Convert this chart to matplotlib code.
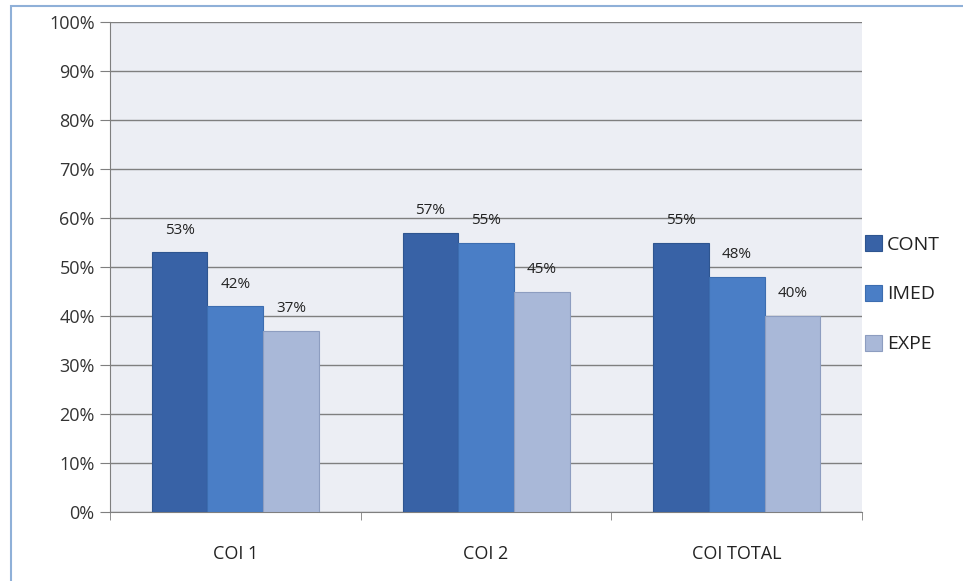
import matplotlib
matplotlib.use("Agg")
import matplotlib.pyplot as plt
import numpy as np
from matplotlib.patches import Rectangle

categories = ["COI 1", "COI 2", "COI TOTAL"]
series = ["CONT", "IMED", "EXPE"]
cont = [53, 57, 55]
imed = [42, 55, 48]
expe = [37, 45, 40]
yticks = [0, 10, 20, 30, 40, 50, 60, 70, 80, 90, 100]

plt.rcParams['font.family'] = ['Open Sans', 'DejaVu Sans']

fig = plt.figure(figsize=(9.63, 5.81), dpi=100)
fig.patch.set_facecolor("white")
# outer frame
fig.patches.append(Rectangle((0.011, -0.01), 1.0, 1.0, transform=fig.transFigure,
                             fill=False, edgecolor="#8fb0d8", linewidth=1.5))

ax = fig.add_axes([0.1142, 0.1188, 0.781, 0.843])
ax.set_facecolor("#eceef4")

x = np.arange(len(categories))
w = 0.222
colors = ["#3862a6", "#4a7ec6", "#a9b8d8"]
edges = ["#2e5590", "#3c6db0", "#8d9dc0"]
for i, (vals, c, e, name) in enumerate(zip([cont, imed, expe], colors, edges, series)):
    pos = x + (i - 1) * w
    ax.bar(pos, vals, width=w, color=c, edgecolor=e, linewidth=0.8, label=name, zorder=3)
    for p, v in zip(pos, vals):
        ax.text(p, v + 3.0, f"{v}%", ha="center", va="bottom", fontsize=11, color="#222222", zorder=4)

ax.set_xlim(-0.5, 2.5)
ax.set_ylim(0, 100)
ax.set_yticks(yticks)
ax.set_yticklabels([f"{t}%" for t in yticks], fontsize=13, color="#333333")
ax.yaxis.grid(True, color="#7f7f7f", linewidth=1.0, zorder=1)
ax.set_axisbelow(True)
ax.set_xticks(x)
ax.set_xticklabels(categories, fontsize=13, color="#222222")
ax.tick_params(axis="x", length=0, pad=24)
ax.set_xticks([-0.5, 0.5, 1.5, 2.5], minor=True)
ax.tick_params(axis="x", which="minor", length=6, color="#7f7f7f")
ax.tick_params(axis="y", length=7, color="#7f7f7f", pad=4)
for s in ["top", "right"]:
    ax.spines[s].set_visible(False)
ax.spines["left"].set_color("#7f7f7f")
ax.spines["bottom"].set_color("#7f7f7f")

leg = ax.legend(loc="center left", bbox_to_anchor=(0.98, 0.445), frameon=False,
                fontsize=14, handlelength=0.9, handleheight=0.9, handletextpad=0.25,
                labelspacing=1.6)
for t in leg.get_texts():
    t.set_color("#222222")

fig.savefig("out.png", dpi=100)
